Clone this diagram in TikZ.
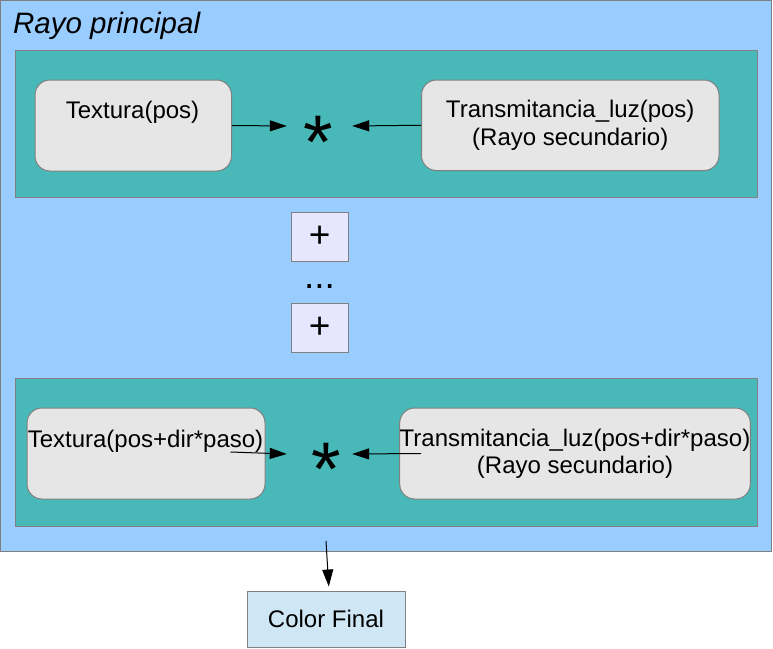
\documentclass[tikz,border=0pt]{standalone}
\usepackage{fontspec}
\setmainfont{Liberation Sans}
\usetikzlibrary{arrows.meta,calc}
\definecolor{outerblue}{HTML}{99CCFF}
\definecolor{tealbox}{HTML}{48B8B8}
\definecolor{nodegray}{HTML}{E6E6E6}
\definecolor{lavbox}{HTML}{E6E6FF}
\definecolor{finalblue}{HTML}{CFE7F5}
\definecolor{edgegray}{HTML}{808080}
\begin{document}
\begin{tikzpicture}[x=1pt,y=-1pt,
  box/.style={draw=edgegray, line width=1pt, rectangle, inner sep=0pt},
  txt/.style={font=\fontsize{24}{28}\selectfont},
  roundbox/.style={box, fill=nodegray, rounded corners=15pt, txt, align=center},
  plusbox/.style={box, fill=lavbox, font=\fontsize{37}{40}\selectfont},
  opnode/.style={rectangle, inner sep=0pt, minimum width=65pt, minimum height=10pt},
  startext/.style={inner sep=0pt, font=\fontsize{76}{80}\selectfont},
  arr/.style={-{Triangle[length=17pt,width=11pt]}, line width=1pt, black}
]
\useasboundingbox (0,0) rectangle (773,648);
% containers
\node[box, fill=outerblue, minimum width=770.5pt, minimum height=551pt] (outer) at (385.75,276) {};
\node[anchor=base west, inner sep=0pt, font=\fontsize{29.5}{34}\selectfont\itshape] (title) at (13,33) {Rayo principal};
\node[box, fill=tealbox, minimum width=742pt, minimum height=147pt] (top) at (386,123.5) {};
\node[box, fill=tealbox, minimum width=742pt, minimum height=148pt] (bot) at (386,452) {};
% upper row
\node[roundbox, minimum width=196.5pt, minimum height=91pt] (tl) at (133.25,125.5) {};
\node[txt, inner sep=0pt] (tltext) at (132.5,112.7) {Textura(pos)};
\node[roundbox, minimum width=297.5pt, minimum height=90.5pt] (tr) at (570.25,125.25) {Transmitancia\_luz(pos)\\(Rayo secundario)};
\node[opnode] (s1) at (319.5,126) {};
\node[startext] (s1text) at (318,126) {\raisebox{-0.556em}[0pt][0pt]{*}};
% plus boxes
\node[plusbox, minimum width=57.5pt, minimum height=49pt] (p1) at (319.75,237) {+};
\node[anchor=base, inner sep=0pt, font=\fontsize{37}{40}\selectfont] (dots) at (319.5,288) {...};
\node[plusbox, minimum width=57.5pt, minimum height=49.5pt] (p2) at (319.75,327.75) {+};
% lower row
\node[roundbox, minimum width=238pt, minimum height=91pt] (bl) at (146,453.5) {};
\node[txt, inner sep=0pt] (bltext) at (145.5,441.7) {Textura(pos+dir*paso)};
\node[roundbox, minimum width=348pt, minimum height=91pt, font=\fontsize{24}{26.6}\selectfont] (br) at (575,453.5) {Transmitancia\_luz(pos+dir*paso)\\(Rayo secundario)};
\node[opnode] (s2) at (319.5,454) {};
\node[startext] (s2text) at (326,453) {\raisebox{-0.556em}[0pt][0pt]{*}};
% final
\node[box, fill=finalblue, minimum width=158pt, minimum height=56pt, txt] (cf) at (326,619) {Color Final};
% connectors
\draw[arr] (tl.east) -- (s1.west);
\draw[arr] (tr.west) -- (s1.east);
\draw[arr] ($(bl.east)+(-35,-1.5)$) -- (s2.west);
\draw[arr] ($(br.west)+(22,0)$) -- (s2.east);
\coordinate (fo) at (326,541);
\draw[arr, shorten >=4pt] (fo) -- ($(cf.north)+(3,0)$);
\end{tikzpicture}
\end{document}
